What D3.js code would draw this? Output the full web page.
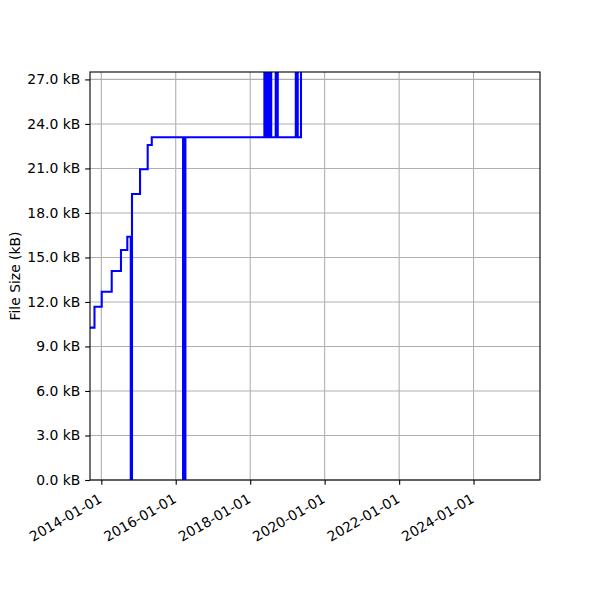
<!DOCTYPE html>
<html>
<head>
<meta charset="utf-8">
<script src="https://cdn.jsdelivr.net/npm/d3@7"></script>
<style>
  body { margin: 0; background: #fff; }
  svg { font-family: "DejaVu Sans", sans-serif; }
</style>
</head>
<body>
<svg id="size-chart" width="600" height="600"></svg>
<script>
// commit dates and file size in kB (values over the top are off-chart)
const dates = [
    '2013-09-12', '2013-10-26', '2014-01-05', '2014-04-13', '2014-07-13',
    '2014-09-13', '2014-10-17', '2014-10-29', '2015-01-16', '2015-04-01',
    '2015-05-11', '2016-03-13', '2016-03-23', '2016-03-26', '2016-04-05',
    '2018-05-20', '2018-05-31', '2018-06-10', '2018-06-20', '2018-06-30',
    '2018-07-10', '2018-07-19', '2018-07-26', '2018-09-08', '2018-09-28',
    '2019-03-24', '2019-04-12', '2019-05-14'
];
const sizes = [
    10.27, 11.68, 12.69, 14.09, 15.50,
    16.40, 0, 19.28, 20.94, 22.58,
    23.10, 0, 23.10, 0, 23.10,
    29.5, 23.10, 29.5, 23.10, 29.5,
    23.10, 29.5, 23.10, 29.5, 23.10,
    29.5, 23.10, 29.5
];
const xTickDates = ['2014-01-01', '2016-01-01', '2018-01-01', '2020-01-01', '2022-01-01', '2024-01-01'];
const yTicks = [0, 3, 6, 9, 12, 15, 18, 21, 24, 27];
const xLimits = ['2013-09-12', '2025-10-14'];
const yLimits = [0, 27.5];

const parseDate = d3.timeParse('%Y-%m-%d');
const points = dates.map((d, i) => [parseDate(d), sizes[i]]);

const svg = d3.select('#size-chart');
const margin = { top: 72, right: 60, bottom: 120, left: 90 };
const width = +svg.attr('width') - margin.left - margin.right;
const height = +svg.attr('height') - margin.top - margin.bottom;

const xScale = d3.scaleTime()
    .domain(xLimits.map(parseDate))
    .range([margin.left, margin.left + width]);

const yScale = d3.scaleLinear()
    .domain(yLimits)
    .range([margin.top + height, margin.top]);

const tickLen = 4.86;
const fontSize = 13.9;
const fontFamily = '"DejaVu Sans", sans-serif';

svg.append('defs').append('clipPath')
    .attr('id', 'plot-clip')
    .append('rect')
    .attr('x', margin.left)
    .attr('y', margin.top)
    .attr('width', width)
    .attr('height', height);

// grid
svg.append('g')
    .selectAll('line')
    .data(xTickDates.map(parseDate))
    .join('line')
    .attr('x1', d => xScale(d))
    .attr('x2', d => xScale(d))
    .attr('y1', margin.top)
    .attr('y2', margin.top + height)
    .attr('stroke', '#b0b0b0')
    .attr('stroke-width', 1.1);

svg.append('g')
    .selectAll('line')
    .data(yTicks)
    .join('line')
    .attr('x1', margin.left)
    .attr('x2', margin.left + width)
    .attr('y1', d => yScale(d))
    .attr('y2', d => yScale(d))
    .attr('stroke', '#b0b0b0')
    .attr('stroke-width', 1.1);

// the size line
const line = d3.line()
    .x(d => xScale(d[0]))
    .y(d => yScale(d[1]))
    .curve(d3.curveStepAfter);

svg.append('path')
    .datum(points)
    .attr('clip-path', 'url(#plot-clip)')
    .attr('fill', 'none')
    .attr('stroke', '#0000ff')
    .attr('stroke-width', 2.08)
    .attr('stroke-linejoin', 'miter')
    .attr('d', line);

// axes
const xAxis = d3.axisBottom(xScale)
    .tickValues(xTickDates.map(parseDate))
    .tickFormat(d3.timeFormat('%Y-%m-%d'))
    .tickSize(tickLen)
    .tickPadding(tickLen);

const gx = svg.append('g')
    .attr('transform', `translate(0,${margin.top + height})`)
    .call(xAxis)
    .attr('font-family', fontFamily)
    .attr('font-size', fontSize);
gx.select('.domain').remove();
gx.selectAll('.tick line').attr('stroke', '#000').attr('stroke-width', 1.1);
gx.selectAll('.tick text')
    .attr('fill', '#000')
    .attr('text-anchor', 'end')
    .attr('y', 0)
    .attr('dy', '0.74em')
    .attr('transform', `translate(-4,${tickLen * 2 + 3}) rotate(-30)`);

const yAxis = d3.axisLeft(yScale)
    .tickValues(yTicks)
    .tickFormat(d => d.toFixed(1) + ' kB')
    .tickSize(tickLen)
    .tickPadding(tickLen);

const gy = svg.append('g')
    .attr('transform', `translate(${margin.left},0)`)
    .call(yAxis)
    .attr('font-family', fontFamily)
    .attr('font-size', fontSize);
gy.select('.domain').remove();
gy.selectAll('.tick line').attr('stroke', '#000').attr('stroke-width', 1.1);
gy.selectAll('.tick text').attr('fill', '#000');

// frame
svg.append('rect')
    .attr('x', margin.left)
    .attr('y', margin.top)
    .attr('width', width)
    .attr('height', height)
    .attr('fill', 'none')
    .attr('stroke', '#000')
    .attr('stroke-width', 1.1);

svg.append('text')
    .attr('transform', `translate(19.5,${margin.top + height / 2}) rotate(-90)`)
    .attr('text-anchor', 'middle')
    .attr('font-family', fontFamily)
    .attr('font-size', fontSize)
    .attr('fill', '#000')
    .text('File Size (kB)');
</script>
</body>
</html>
